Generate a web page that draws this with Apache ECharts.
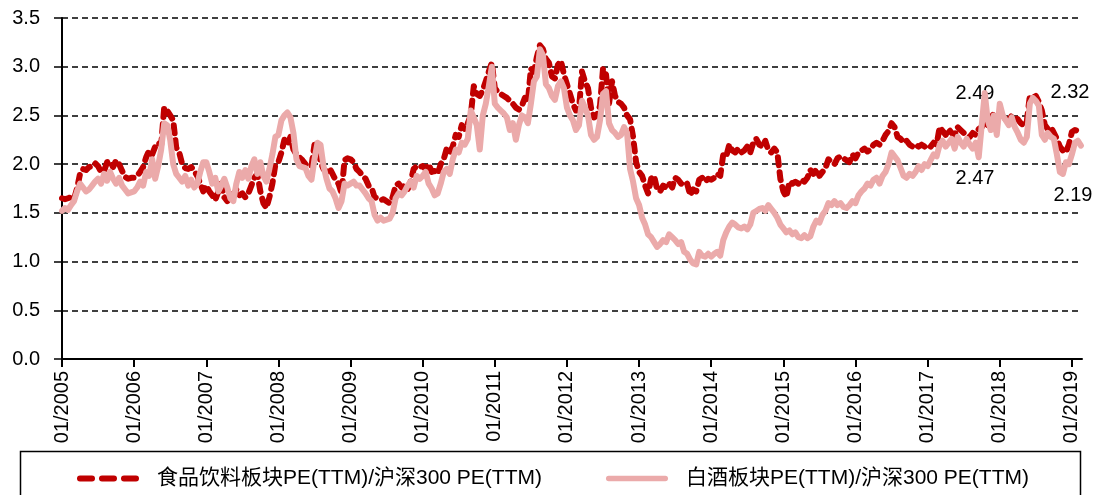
<!DOCTYPE html>
<html>
<head>
<meta charset="utf-8">
<script src="https://cdn.jsdelivr.net/npm/echarts@6/dist/echarts.min.js"></script>
<style>html,body{margin:0;padding:0;background:#fff}#c{width:1105px;height:495px}</style>
</head>
<body>
<div id="c"></div>
<script>
// ---- data (half-monthly observations starting 01/2005) ----
const startYear = 2005;
const pointsPerYear = 24;
const yearTicks = [2005,2006,2007,2008,2009,2010,2011,2012,2013,2014,2015,2016,2017,2018,2019];
const foodName = '食品饮料板块PE(TTM)/沪深300 PE(TTM)';
const liquorName = '白酒板块PE(TTM)/沪深300 PE(TTM)';
const foodPE = [
1.65,1.64,1.65,1.66,1.64,1.75,1.90,1.95,1.94,1.97,1.98,2.01,1.98,1.92,1.93,2.02,2.03,1.97,2.04,2.00,1.93,1.87,1.85,1.86,
1.86,1.88,1.92,1.97,2.07,2.14,2.10,2.18,2.22,2.20,2.58,2.55,2.50,2.45,2.17,2.12,2.00,1.96,1.95,1.97,1.93,1.88,1.80,1.72,
1.78,1.72,1.68,1.63,1.72,1.80,1.66,1.62,1.70,1.68,1.74,1.68,1.70,1.66,1.70,1.78,1.86,1.90,1.72,1.60,1.55,1.66,1.80,2.00,
2.02,2.12,2.25,2.20,2.28,2.15,2.10,2.07,2.04,2.00,2.00,1.98,2.20,2.18,2.02,1.95,1.92,1.96,1.90,1.84,1.80,1.70,2.04,2.06,
2.05,2.02,1.95,1.92,1.88,1.85,1.78,1.76,1.66,1.65,1.63,1.64,1.62,1.60,1.66,1.78,1.80,1.76,1.78,1.74,1.82,1.95,1.98,1.97,
1.98,1.95,2.00,1.92,1.93,1.90,2.00,2.05,2.16,2.12,2.18,2.30,2.28,2.40,2.36,2.42,2.50,2.80,2.72,2.70,2.76,2.85,2.95,3.04,
2.78,2.74,2.72,2.70,2.68,2.65,2.62,2.58,2.56,2.60,2.68,2.64,2.98,2.95,3.10,3.22,3.18,3.08,3.04,2.90,2.88,3.02,3.06,2.92,
2.82,2.72,2.62,2.55,2.56,2.95,2.85,2.78,2.58,2.48,2.50,2.60,2.98,2.92,2.62,2.85,2.70,2.64,2.62,2.58,2.50,2.46,2.28,2.02,
1.92,1.88,1.78,1.70,1.85,1.88,1.74,1.72,1.78,1.76,1.80,1.76,1.86,1.84,1.80,1.78,1.80,1.68,1.74,1.72,1.84,1.86,1.82,1.85,
1.84,1.86,1.90,1.88,2.10,2.08,2.20,2.14,2.12,2.16,2.12,2.14,2.18,2.12,2.22,2.26,2.20,2.18,2.24,2.14,2.12,2.16,2.12,1.85,
1.72,1.66,1.82,1.80,1.82,1.80,1.84,1.82,1.86,1.94,1.90,1.95,1.88,1.92,1.96,2.05,2.02,2.00,2.06,2.08,2.06,2.04,2.02,2.10,
2.06,2.12,2.14,2.16,2.13,2.15,2.20,2.22,2.20,2.24,2.30,2.34,2.42,2.38,2.28,2.26,2.22,2.24,2.20,2.18,2.20,2.18,2.20,2.18,
2.20,2.18,2.22,2.20,2.38,2.34,2.30,2.36,2.32,2.30,2.38,2.35,2.32,2.30,2.28,2.32,2.30,2.36,2.38,2.44,2.40,2.52,2.50,2.48,
2.50,2.48,2.46,2.45,2.50,2.48,2.46,2.42,2.40,2.44,2.70,2.68,2.70,2.64,2.55,2.40,2.36,2.38,2.32,2.26,2.18,2.14,2.12,2.20,
2.33,2.35,2.34,2.32
];
const liquorPE = [
1.52,1.55,1.53,1.58,1.62,1.72,1.80,1.76,1.72,1.74,1.78,1.82,1.85,1.80,1.90,1.83,1.92,1.85,1.80,1.86,1.78,1.74,1.70,1.71,
1.72,1.76,1.82,1.78,1.92,1.88,2.05,1.85,1.98,2.15,2.42,2.40,2.25,2.00,1.90,1.86,1.82,1.88,1.78,1.84,1.76,1.80,1.92,2.02,
2.02,1.92,1.80,1.86,1.72,1.78,1.85,1.76,1.65,1.62,1.80,1.92,1.86,1.94,1.85,1.98,2.05,1.90,2.02,1.88,1.82,1.95,2.10,2.28,
2.30,2.45,2.50,2.53,2.48,2.32,2.05,1.98,1.97,1.96,1.88,1.84,2.05,2.22,2.20,1.98,1.85,1.75,1.72,1.65,1.55,1.62,1.80,1.78,
1.80,1.82,1.78,1.78,1.74,1.70,1.65,1.62,1.48,1.42,1.45,1.42,1.43,1.44,1.50,1.65,1.70,1.68,1.72,1.78,1.82,1.76,1.88,1.85,
1.88,1.92,1.80,1.75,1.68,1.70,1.80,1.92,1.95,1.90,2.05,2.15,2.12,2.22,2.20,2.26,2.55,2.48,2.40,2.15,2.50,2.62,2.80,3.00,
2.62,2.58,2.55,2.52,2.48,2.35,2.42,2.25,2.40,2.50,2.48,2.42,2.62,2.85,2.90,3.18,3.12,2.82,2.78,2.70,2.66,2.80,2.85,2.78,
2.58,2.50,2.45,2.35,2.40,2.65,2.58,2.50,2.30,2.25,2.28,2.45,2.72,2.75,2.42,2.35,2.32,2.28,2.30,2.38,2.32,1.95,1.82,1.65,
1.58,1.45,1.38,1.28,1.25,1.20,1.15,1.18,1.22,1.20,1.28,1.25,1.22,1.18,1.20,1.10,1.08,1.02,0.98,0.97,1.10,1.06,1.05,1.08,
1.05,1.08,1.10,1.06,1.22,1.30,1.36,1.40,1.38,1.35,1.34,1.36,1.33,1.38,1.50,1.52,1.54,1.55,1.52,1.58,1.54,1.50,1.45,1.38,
1.34,1.30,1.32,1.28,1.30,1.25,1.24,1.27,1.24,1.26,1.36,1.42,1.40,1.48,1.52,1.60,1.58,1.62,1.58,1.60,1.56,1.55,1.58,1.62,
1.60,1.68,1.72,1.75,1.80,1.78,1.84,1.86,1.80,1.88,1.92,2.00,2.12,2.08,2.04,1.96,1.88,1.86,1.90,1.88,1.92,1.98,1.94,2.00,
1.98,2.04,2.10,2.08,2.20,2.24,2.18,2.22,2.26,2.16,2.28,2.22,2.18,2.26,2.20,2.16,2.22,2.07,2.40,2.73,2.45,2.35,2.50,2.30,
2.62,2.50,2.45,2.40,2.48,2.38,2.32,2.25,2.22,2.28,2.62,2.68,2.65,2.60,2.30,2.25,2.32,2.28,2.26,2.10,1.92,1.90,2.02,2.00,
2.10,2.22,2.24,2.19
];
const annotationLabels = ['2.49', '2.47', '2.32', '2.19'];

// ---- chart ----
function toPairs(vals) { return vals.map((v, i) => [startYear + i / pointsPerYear, v]); }
const FONT = '"Liberation Sans", Arial, "Noto Sans CJK SC", sans-serif';
const RED = '#C00000', PINK = '#EBAAAA';
const chart = echarts.init(document.getElementById('c'), null, { renderer: 'canvas' });
const annPos = [[975, 93], [975, 178], [1070, 92], [1073, 195]];
// legend glyphs: three rounded dashes / one rounded bar
const dashIcon = 'path://M3,0H15A3,3 0 0 1 15,6H3A3,3 0 0 1 3,0Z M25,0H37A3,3 0 0 1 37,6H25A3,3 0 0 1 25,0Z M47,0H59A3,3 0 0 1 59,6H47A3,3 0 0 1 47,0Z';
const barIcon = 'path://M3,0H67A3,3 0 0 1 67,6H3A3,3 0 0 1 3,0Z';
chart.setOption({
  animation: false,
  backgroundColor: '#fff',
  grid: { left: 62, right: 23, top: 18, bottom: 136 },
  xAxis: {
    type: 'value', min: 2005, max: 2019.14,
    axisLine: { lineStyle: { color: '#000', width: 2 } },
    axisTick: { show: true, customValues: yearTicks, length: 8, lineStyle: { color: '#000', width: 2 } },
    axisLabel: { customValues: yearTicks, rotate: 90, margin: 12, fontSize: 20, fontFamily: FONT, color: '#000',
      formatter: v => '01/' + Math.round(v) },
    splitLine: { show: false }
  },
  yAxis: {
    type: 'value', min: 0, max: 3.5, interval: 0.5,
    axisLine: { show: true, lineStyle: { color: '#000', width: 2 } },
    axisTick: { show: true, length: 8, lineStyle: { color: '#000', width: 1.5 } },
    axisLabel: { margin: 22, fontSize: 20, fontFamily: FONT, color: '#000', formatter: v => v.toFixed(1) },
    splitLine: { show: true, lineStyle: { color: '#000', width: 1.5, type: [6, 4] } }
  },
  legend: {
    left: 77, top: 468, padding: 0, itemHeight: 6, itemGap: 64,
    textStyle: { fontSize: 21, color: '#000', fontFamily: FONT, padding: [0, 0, 0, 13] },
    data: [
      { name: foodName, icon: dashIcon, itemWidth: 62 },
      { name: liquorName, icon: barIcon, itemWidth: 70 }
    ],
    itemWidth: 62
  },
  graphic: [
    { type: 'rect', left: 18, top: 449, silent: true, z: -1,
      shape: { width: 1060, height: 60 }, style: { fill: 'none', stroke: '#000', lineWidth: 1.5 } }
  ].concat(annotationLabels.map((t, i) => ({
    type: 'text', x: annPos[i][0], y: annPos[i][1], silent: true,
    style: { text: t, fill: '#000', font: '20px ' + FONT, textAlign: 'center', textVerticalAlign: 'middle' }
  }))),
  series: [
    { name: foodName, type: 'line', data: toPairs(foodPE), showSymbol: false, symbol: 'none',
      lineStyle: { color: RED, width: 6, type: [8, 7], cap: 'round', join: 'round' },
      itemStyle: { color: RED } },
    { name: liquorName, type: 'line', data: toPairs(liquorPE), showSymbol: false, symbol: 'none',
      lineStyle: { color: PINK, width: 6, cap: 'round', join: 'round' },
      itemStyle: { color: PINK } }
  ]
});
</script>
</body>
</html>
